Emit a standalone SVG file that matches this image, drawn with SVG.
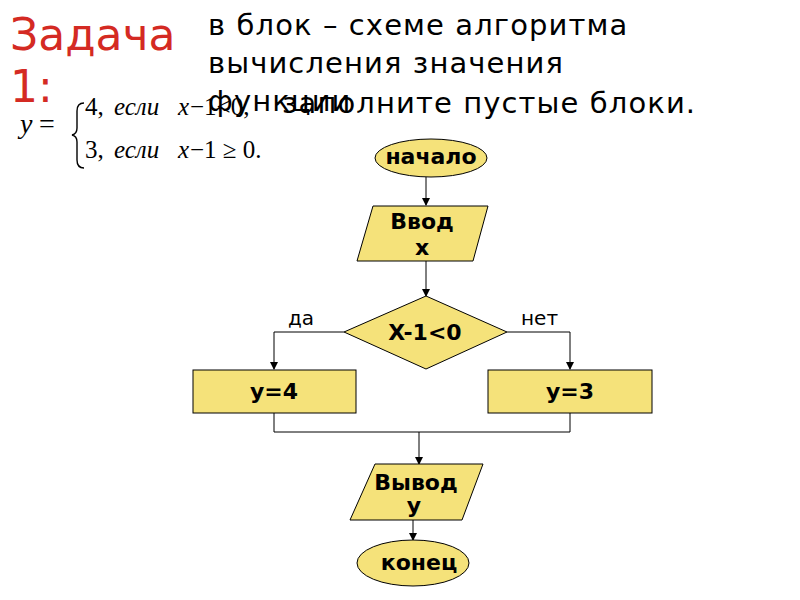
<svg xmlns="http://www.w3.org/2000/svg" width="800" height="600" viewBox="0 0 800 600">
<defs>
<marker id="ah" markerWidth="8" markerHeight="8" refX="7" refY="4" orient="auto" markerUnits="userSpaceOnUse">
<path d="M0,0 L8,4 L0,8 Z" fill="#000"/>
</marker>
<style>
.blk{fill:#f5e27a;stroke:#000;stroke-width:1}
.lbl{font-family:"DejaVu Sans",sans-serif;font-weight:bold;font-size:22px;fill:#000;text-anchor:middle}
.con{fill:none;stroke:#000;stroke-width:1}
.body{font-family:"DejaVu Sans",sans-serif;font-size:29px;letter-spacing:1.1px;fill:#000}
.sm{font-family:"DejaVu Sans",sans-serif;font-size:20px;fill:#000}
.math{font-family:"Liberation Serif",serif;font-size:25px;fill:#000}
.big{font-size:28px}
.it{font-style:italic}
</style>
</defs>
<rect width="800" height="600" fill="#fff"/>
<g id="title">
<text x="10" y="50" font-family="DejaVu Sans,sans-serif" font-size="44" fill="#d42a23">Задача</text>
<text x="10" y="102" font-family="DejaVu Sans,sans-serif" font-size="44" fill="#d42a23">1:</text>
</g>
<g id="formula">
<text class="math it big" x="20" y="133">y</text>
<text class="math big" x="39" y="133">=</text>
<path d="M84,103 Q77,103 77,111 L77,128 Q77,134 72,135 Q77,136 77,142 L77,160 Q77,168 84,168" fill="none" stroke="#000" stroke-width="1.4"/>
<text class="math" x="85" y="115">4,</text>
<text class="math it" x="114" y="115">если</text>
<text class="math it" x="178" y="115">x</text>
<text class="math" x="190" y="115">−1&lt;0,</text>
<text class="math" x="85" y="158">3,</text>
<text class="math it" x="114" y="158">если</text>
<text class="math it" x="178" y="158">x</text>
<text class="math" x="190" y="158">−1 ≥ 0.</text>
</g>
<g id="task">
<text class="body" x="208" y="35">в блок – схеме алгоритма</text>
<text class="body" x="208" y="73">вычисления значения</text>
<text class="body" x="208" y="111">функции</text>
<text class="body" x="282" y="113">заполните пустые блоки.</text>
</g>
<g id="connectors">
<line class="con" x1="426" y1="177" x2="426" y2="205" marker-end="url(#ah)"/>
<line class="con" x1="426" y1="261" x2="426" y2="296" marker-end="url(#ah)"/>
<polyline class="con" points="344,332 274,332 274,369" marker-end="url(#ah)"/>
<polyline class="con" points="507,332 570,332 570,369" marker-end="url(#ah)"/>
<polyline class="con" points="274,413 274,432 570,432 570,413"/>
<line class="con" x1="419" y1="432" x2="419" y2="464" marker-end="url(#ah)"/>
<line class="con" x1="413" y1="520" x2="413" y2="540" marker-end="url(#ah)"/>
<text class="sm" x="288" y="325">да</text>
<text class="sm" x="521" y="325">нет</text>
</g>
<g id="start">
<ellipse class="blk" cx="431" cy="158" rx="56" ry="19"/>
<text class="lbl" x="431" y="164">начало</text>
</g>
<g id="input">
<polygon class="blk" points="373,206 488,206 473,261 357,261"/>
<text class="lbl" x="422" y="229">Ввод</text>
<text class="lbl" x="422" y="255">x</text>
</g>
<g id="decision">
<polygon class="blk" points="426,296 507,332 426,369 344,332"/>
<text class="lbl" x="425" y="340">X-1&lt;0</text>
</g>
<g id="y4">
<rect class="blk" x="193" y="370" width="163" height="43"/>
<text class="lbl" x="274" y="399">y=4</text>
</g>
<g id="y3">
<rect class="blk" x="488" y="370" width="164" height="43"/>
<text class="lbl" x="570" y="399">y=3</text>
</g>
<g id="output">
<polygon class="blk" points="375,464 483,464 462,520 350,520"/>
<text class="lbl" x="416" y="490">Вывод</text>
<text class="lbl" x="414" y="513">y</text>
</g>
<g id="end">
<ellipse class="blk" cx="413" cy="563" rx="56" ry="23"/>
<text class="lbl" x="419" y="570">конец</text>
</g>
</svg>
